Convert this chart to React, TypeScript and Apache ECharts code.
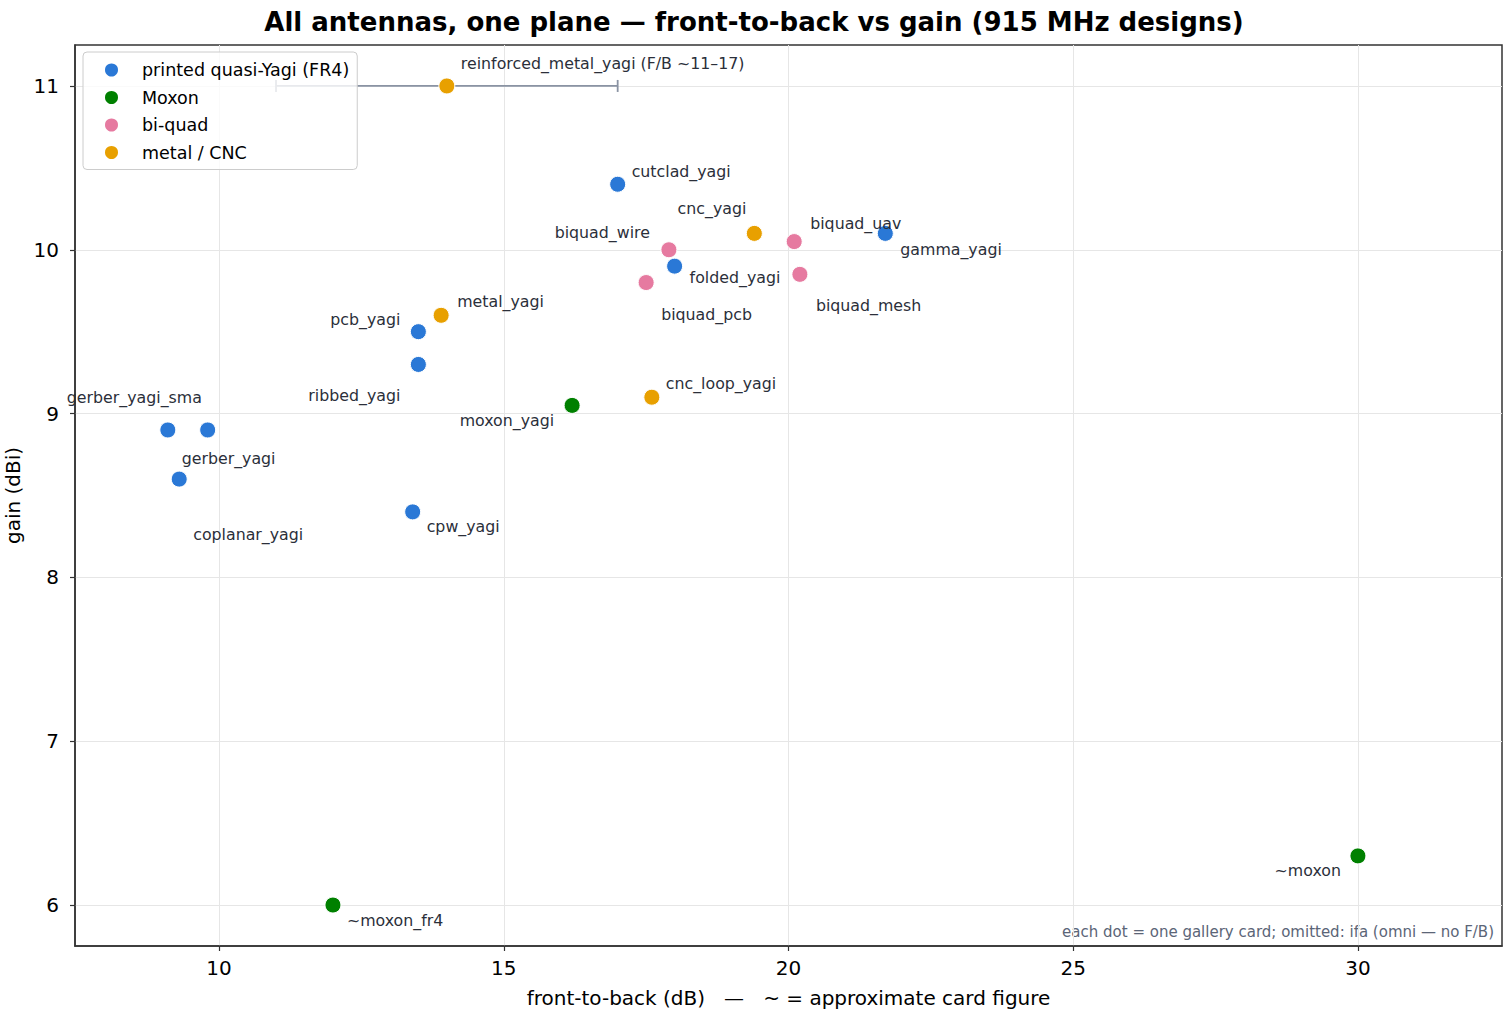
import React, { useEffect, useRef } from "react";
import * as echarts from "echarts";

// groups of designs: front-to-back (dB) and gain (dBi)
const printedNames = ["pcb_yagi", "ribbed_yagi", "gerber_yagi_sma", "gerber_yagi", "coplanar_yagi", "cpw_yagi", "cutclad_yagi", "folded_yagi", "gamma_yagi"];
const printedFB = [13.5, 13.5, 9.1, 9.8, 9.3, 13.4, 17.0, 18.0, 21.7];
const printedGain = [9.5, 9.3, 8.9, 8.9, 8.6, 8.4, 10.4, 9.9, 10.1];

const moxonNames = ["moxon_yagi", "~moxon_fr4", "~moxon"];
const moxonFB = [16.2, 12.0, 30.0];
const moxonGain = [9.05, 6.0, 6.3];

const biquadNames = ["biquad_wire", "biquad_pcb", "biquad_uav", "biquad_mesh"];
const biquadFB = [17.9, 17.5, 20.1, 20.2];
const biquadGain = [10.0, 9.8, 10.05, 9.85];

const metalNames = ["reinforced_metal_yagi (F/B ~11–17)", "metal_yagi", "cnc_yagi", "cnc_loop_yagi"];
const metalFB = [14.0, 13.9, 19.4, 17.6];
const metalGain = [11.0, 9.6, 10.1, 9.1];

// F/B range for the reinforced metal yagi: [centre, gain, low, high]
const fbRange = [[14.0, 11.0, 11.0, 17.0]];

const xTicks = [10, 15, 20, 25, 30];
const yTicks = [6, 7, 8, 9, 10, 11];

const groupNames = ["printed quasi-Yagi (FR4)", "Moxon", "bi-quad", "metal / CNC"];
const groupColors = ["#2a78d6", "#008000", "#e67aa0", "#e8a000"];

// label placement around each dot: [align, dx, dy]
const labelPlace: Record<string, [string, number, number]> = {
  "reinforced_metal_yagi (F/B ~11–17)": ["left", 14, -22],
  cutclad_yagi: ["left", 14, -13],
  cnc_yagi: ["right", -8, -25],
  biquad_wire: ["right", -19, -17],
  biquad_uav: ["left", 16, -18],
  gamma_yagi: ["left", 15, 16],
  folded_yagi: ["left", 15, 11],
  biquad_pcb: ["left", 15, 32],
  biquad_mesh: ["left", 16, 31],
  metal_yagi: ["left", 16, -14],
  pcb_yagi: ["right", -18, -12],
  ribbed_yagi: ["right", -18, 31],
  moxon_yagi: ["right", -18, 15],
  cnc_loop_yagi: ["left", 14, -14],
  gerber_yagi_sma: ["left", -101, -32],
  gerber_yagi: ["left", -26, 29],
  coplanar_yagi: ["left", 14, 55],
  cpw_yagi: ["left", 14, 15],
  "~moxon_fr4": ["left", 14, 15],
  "~moxon": ["right", -17, 15],
};

const FONT = "DejaVu Sans";

const makePoints = (names: string[], xs: number[], ys: number[]) =>
  names.map((n, i) => {
    const p = labelPlace[n] || ["left", 14, -14];
    return {
      name: n,
      value: [xs[i], ys[i]],
      label: {
        show: true,
        formatter: n,
        position: "inside",
        align: p[0],
        verticalAlign: "middle",
        offset: [p[1], p[2]],
        color: "#2b2f3a",
        fontSize: 15.8,
        fontFamily: FONT,
      },
    };
  });

const App = () => {
  const chartRef = useRef<HTMLDivElement>(null);

  useEffect(() => {
    document.body.style.margin = "0";
    const chartDom = chartRef.current;
    if (!chartDom) return;
    const myChart = echarts.init(chartDom, null, { renderer: "svg" });

    const groups = [
      makePoints(printedNames, printedFB, printedGain),
      makePoints(moxonNames, moxonFB, moxonGain),
      makePoints(biquadNames, biquadFB, biquadGain),
      makePoints(metalNames, metalFB, metalGain),
    ];

    const option: any = {
      animation: false,
      backgroundColor: "#ffffff",
      title: {
        text: "All antennas, one plane — front-to-back vs gain (915 MHz designs)",
        left: "center",
        top: 4,
        textStyle: { fontFamily: FONT, fontSize: 26, fontWeight: "bold", color: "#000" },
      },
      legend: {
        data: groupNames.map((n) => ({ name: n, icon: "circle" })),
        orient: "vertical",
        left: 83,
        top: 52,
        padding: [9, 8, 8, 20],
        itemGap: 9.5,
        itemWidth: 15,
        itemHeight: 15,
        backgroundColor: "rgba(255,255,255,0.8)",
        borderColor: "#cccccc",
        borderWidth: 1,
        borderRadius: 4,
        textStyle: { fontFamily: FONT, fontSize: 17.5, color: "#000", padding: [0, 0, 0, 18] },
      },
      grid: {
        left: 75,
        right: 6,
        top: 45,
        bottom: 69,
        show: true,
        borderColor: "#333333",
        borderWidth: 1.5,
        containLabel: false,
        outerBoundsMode: "none",
      },
      xAxis: {
        type: "value",
        min: 7.47,
        max: 32.53,
        name: "front-to-back (dB)   —   ~ = approximate card figure",
        nameLocation: "middle",
        nameGap: 42,
        nameTextStyle: { fontFamily: FONT, fontSize: 20, color: "#000" },
        axisLine: { show: true, lineStyle: { color: "#333333", width: 1.5 } },
        axisTick: { show: true, length: 5, customValues: xTicks, lineStyle: { color: "#333333", width: 1.2 } },
        axisLabel: { customValues: xTicks, margin: 12, fontFamily: FONT, fontSize: 20, color: "#000" },
        splitLine: { show: true, lineStyle: { color: "#e6e6e6", width: 1 } },
      },
      yAxis: {
        type: "value",
        min: 5.75,
        max: 11.25,
        name: "gain (dBi)",
        nameLocation: "middle",
        nameGap: 45,
        nameTextStyle: { fontFamily: FONT, fontSize: 20, color: "#000" },
        axisLine: { show: true, lineStyle: { color: "#333333", width: 1.5 } },
        axisTick: { show: true, length: 5, customValues: yTicks, lineStyle: { color: "#333333", width: 1.2 } },
        axisLabel: { customValues: yTicks, margin: 16, fontFamily: FONT, fontSize: 20, color: "#000" },
        splitLine: { show: true, lineStyle: { color: "#e6e6e6", width: 1 } },
      },
      graphic: [
        {
          type: "text",
          right: 14,
          top: 924,
          style: {
            text: "each dot = one gallery card; omitted: ifa (omni — no F/B)",
            fontFamily: FONT,
            fontSize: 15,
            fill: "#5b6577",
          },
        },
      ],
      series: [
        {
          type: "custom",
          name: "fb range",
          z: 1,
          silent: true,
          data: fbRange,
          renderItem: (_params: any, api: any) => {
            const y = api.value(1);
            const lo = api.coord([api.value(2), y]);
            const hi = api.coord([api.value(3), y]);
            const st = { stroke: "#8a93a3", lineWidth: 1.8 };
            return {
              type: "group",
              children: [
                { type: "line", shape: { x1: lo[0], y1: lo[1], x2: hi[0], y2: hi[1] }, style: st },
                { type: "line", shape: { x1: lo[0], y1: lo[1] - 6, x2: lo[0], y2: lo[1] + 6 }, style: st },
                { type: "line", shape: { x1: hi[0], y1: hi[1] - 6, x2: hi[0], y2: hi[1] + 6 }, style: st },
              ],
            };
          },
        },
        ...groups.map((d, i) => ({
          type: "scatter",
          name: groupNames[i],
          z: 3,
          symbol: "circle",
          symbolSize: 16,
          itemStyle: { color: groupColors[i], borderColor: "#ffffff", borderWidth: 1, opacity: 1 },
          data: d,
        })),
      ],
    };

    myChart.setOption(option);

    const onResize = () => myChart.resize();
    window.addEventListener("resize", onResize, false);
    return () => {
      window.removeEventListener("resize", onResize, false);
      myChart.dispose();
    };
  }, []);

  return <div ref={chartRef} style={{ width: 1508, height: 1015 }}></div>;
};

export default App;
